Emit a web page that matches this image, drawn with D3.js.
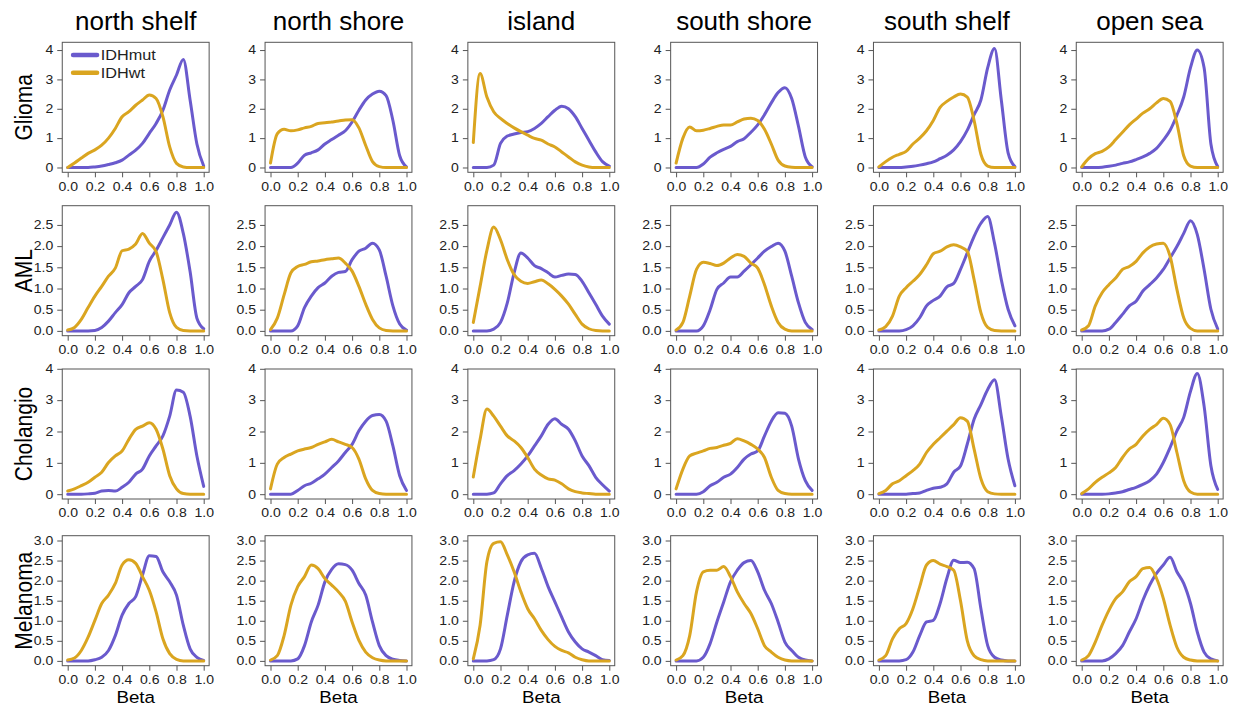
<!DOCTYPE html>
<html lang="en">

<head>
  <meta charset="UTF-8" />
  <script src="https://d3js.org/d3.v7.min.js"></script>
  <style>
    body {
      margin: 0;
      background: #fff;
    }

    text {
      font-family: Arial, "Liberation Sans", Helvetica, sans-serif;
      fill: #1a1a1a;
    }

    .tick line {
      stroke: #555;
    }
  </style>
</head>

<body>
  <svg id="chart" width="1240" height="706"></svg>

  <script>
    const regions = ["north shelf", "north shore", "island", "south shore", "south shelf", "open sea"];
    const cancers = ["Glioma", "AML", "Cholangio", "Melanoma"];
    const groups = ["IDHmut", "IDHwt"];
    const betaGrid = [0, 0.05, 0.1, 0.15, 0.2, 0.25, 0.3, 0.35, 0.4, 0.45, 0.5, 0.55, 0.6, 0.65, 0.7, 0.75, 0.8, 0.85, 0.9, 0.95, 1.0];
    const betaTicks = [0, 0.2, 0.4, 0.6, 0.8, 1.0];
    const densityTicks = [[0, 1, 2, 3, 4], [0, 0.5, 1, 1.5, 2, 2.5], [0, 1, 2, 3, 4], [0, 0.5, 1, 1.5, 2, 2.5, 3]];
    const densityMax = [4.1, 2.84, 3.84, 3.0];

    // density values at each betaGrid point, one array per region
    const gliomaMut = [
      [0, 0, 0, 0, 0.02, 0.05, 0.1, 0.16, 0.25, 0.42, 0.59, 0.82, 1.16, 1.5, 1.95, 2.64, 3.15, 3.68, 2.3, 0.8, 0.05],
      [0, 0, 0, 0, 0.15, 0.42, 0.5, 0.6, 0.8, 0.95, 1.1, 1.25, 1.55, 1.95, 2.3, 2.5, 2.6, 2.45, 1.6, 0.4, 0.02],
      [0, 0, 0, 0.08, 0.82, 1.07, 1.14, 1.19, 1.22, 1.33, 1.5, 1.73, 1.95, 2.09, 2.0, 1.73, 1.33, 0.93, 0.53, 0.2, 0.05],
      [0, 0, 0, 0, 0.12, 0.35, 0.5, 0.62, 0.72, 0.88, 0.98, 1.2, 1.45, 1.8, 2.2, 2.55, 2.72, 2.35, 1.4, 0.36, 0.03],
      [0, 0, 0, 0, 0.02, 0.04, 0.08, 0.13, 0.19, 0.3, 0.42, 0.6, 0.88, 1.27, 1.8, 2.3, 3.4, 4.05, 2.3, 0.5, 0.03],
      [0, 0, 0, 0.01, 0.04, 0.08, 0.14, 0.19, 0.27, 0.36, 0.48, 0.65, 0.93, 1.27, 1.78, 2.4, 3.4, 4.0, 3.4, 0.8, 0.03]
    ];
    const gliomaWt = [
      [0, 0.15, 0.32, 0.48, 0.6, 0.76, 1.0, 1.33, 1.73, 1.9, 2.12, 2.3, 2.47, 2.35, 1.73, 0.7, 0.14, 0.02, 0, 0, 0],
      [0.15, 1.15, 1.3, 1.25, 1.28, 1.35, 1.4, 1.5, 1.52, 1.55, 1.58, 1.62, 1.63, 1.35, 0.75, 0.2, 0.03, 0, 0, 0, 0],
      [0.85, 3.2, 2.4, 1.9, 1.67, 1.5, 1.35, 1.22, 1.1, 0.99, 0.93, 0.8, 0.7, 0.53, 0.36, 0.19, 0.08, 0.02, 0, 0, 0],
      [0.15, 1.0, 1.38, 1.25, 1.27, 1.33, 1.4, 1.45, 1.45, 1.55, 1.65, 1.68, 1.6, 1.3, 0.8, 0.25, 0.05, 0.01, 0, 0, 0],
      [0.02, 0.2, 0.35, 0.45, 0.55, 0.8, 1.0, 1.25, 1.6, 2.05, 2.25, 2.4, 2.5, 2.4, 1.6, 0.45, 0.05, 0, 0, 0, 0],
      [0.02, 0.3, 0.47, 0.55, 0.7, 0.95, 1.2, 1.45, 1.65, 1.85, 2.0, 2.2, 2.35, 2.25, 1.5, 0.4, 0.05, 0, 0, 0, 0]
    ];
    const amlMut = [
      [0, 0, 0, 0, 0.01, 0.08, 0.23, 0.43, 0.62, 0.9, 1.05, 1.21, 1.64, 1.9, 2.2, 2.5, 2.8, 2.3, 1.4, 0.3, 0.05],
      [0, 0, 0, 0, 0.12, 0.55, 0.82, 1.02, 1.13, 1.29, 1.38, 1.4, 1.68, 1.88, 1.95, 2.07, 1.91, 1.29, 0.59, 0.16, 0.02],
      [0, 0, 0, 0.04, 0.2, 0.66, 1.37, 1.84, 1.72, 1.54, 1.47, 1.37, 1.27, 1.31, 1.34, 1.33, 1.17, 0.9, 0.63, 0.35, 0.16],
      [0, 0, 0, 0, 0.12, 0.5, 0.98, 1.13, 1.27, 1.27, 1.41, 1.56, 1.72, 1.88, 1.99, 2.07, 1.88, 1.29, 0.66, 0.2, 0.03],
      [0, 0, 0, 0, 0.03, 0.12, 0.31, 0.59, 0.72, 0.82, 1.04, 1.12, 1.45, 1.84, 2.23, 2.54, 2.7, 2.07, 1.21, 0.51, 0.12],
      [0, 0, 0, 0, 0.04, 0.2, 0.39, 0.59, 0.7, 0.94, 1.09, 1.25, 1.45, 1.72, 1.99, 2.3, 2.6, 2.27, 1.45, 0.51, 0.05]
    ];
    const amlWt = [
      [0.02, 0.08, 0.27, 0.55, 0.82, 1.05, 1.29, 1.48, 1.89, 1.93, 2.05, 2.3, 2.07, 1.87, 1.21, 0.43, 0.08, 0.01, 0, 0, 0],
      [0.03, 0.3, 0.85, 1.37, 1.52, 1.57, 1.63, 1.65, 1.68, 1.7, 1.72, 1.6, 1.41, 1.05, 0.63, 0.27, 0.07, 0.01, 0, 0, 0],
      [0.2, 1.05, 1.9, 2.45, 2.15, 1.68, 1.33, 1.17, 1.12, 1.16, 1.2, 1.11, 0.98, 0.82, 0.63, 0.39, 0.16, 0.05, 0.01, 0, 0],
      [0.02, 0.2, 0.82, 1.45, 1.62, 1.59, 1.54, 1.6, 1.72, 1.8, 1.76, 1.6, 1.48, 1.09, 0.59, 0.2, 0.04, 0, 0, 0, 0],
      [0.02, 0.1, 0.35, 0.82, 1.02, 1.17, 1.33, 1.56, 1.82, 1.88, 1.98, 2.03, 1.98, 1.88, 1.21, 0.43, 0.08, 0.01, 0, 0, 0],
      [0.02, 0.12, 0.59, 0.9, 1.09, 1.25, 1.45, 1.52, 1.64, 1.84, 1.98, 2.05, 2.07, 1.76, 0.98, 0.31, 0.06, 0, 0, 0, 0]
    ];
    const cholangioMut = [
      [0, 0, 0, 0.01, 0.03, 0.1, 0.12, 0.1, 0.22, 0.38, 0.64, 0.8, 1.22, 1.54, 1.86, 2.49, 3.32, 3.25, 2.49, 1.22, 0.25],
      [0, 0, 0, 0, 0.12, 0.27, 0.35, 0.49, 0.64, 0.85, 1.06, 1.33, 1.59, 2.02, 2.33, 2.51, 2.54, 2.33, 1.54, 0.59, 0.12],
      [0, 0, 0, 0.04, 0.33, 0.59, 0.75, 0.96, 1.22, 1.54, 1.86, 2.23, 2.41, 2.23, 2.07, 1.7, 1.22, 0.91, 0.54, 0.3, 0.1],
      [0, 0, 0, 0, 0.08, 0.27, 0.38, 0.54, 0.64, 0.85, 1.12, 1.28, 1.38, 1.86, 2.33, 2.6, 2.58, 2.17, 1.12, 0.43, 0.12],
      [0, 0, 0, 0, 0, 0.02, 0.04, 0.12, 0.19, 0.22, 0.33, 0.7, 0.9, 1.6, 2.39, 2.86, 3.34, 3.65, 2.49, 1.12, 0.27],
      [0, 0, 0, 0, 0.01, 0.04, 0.08, 0.15, 0.22, 0.31, 0.43, 0.64, 1.01, 1.49, 2.02, 2.45, 3.28, 3.85, 2.81, 0.91, 0.15]
    ];
    const cholangioWt = [
      [0.1, 0.17, 0.27, 0.38, 0.54, 0.7, 1.01, 1.22, 1.38, 1.75, 2.07, 2.17, 2.28, 2.07, 1.44, 0.59, 0.17, 0.02, 0, 0, 0],
      [0.17, 0.96, 1.17, 1.28, 1.38, 1.44, 1.49, 1.59, 1.67, 1.75, 1.67, 1.59, 1.49, 1.12, 0.49, 0.12, 0.02, 0, 0, 0, 0],
      [0.55, 1.75, 2.72, 2.49, 2.17, 1.86, 1.7, 1.49, 1.17, 0.8, 0.61, 0.49, 0.45, 0.33, 0.17, 0.08, 0.04, 0.02, 0, 0, 0],
      [0.17, 0.8, 1.22, 1.31, 1.38, 1.46, 1.49, 1.56, 1.62, 1.77, 1.7, 1.59, 1.44, 1.17, 0.54, 0.12, 0.02, 0, 0, 0, 0],
      [0.02, 0.12, 0.33, 0.43, 0.59, 0.75, 0.96, 1.33, 1.59, 1.8, 2.01, 2.22, 2.44, 2.33, 1.44, 0.49, 0.08, 0.01, 0, 0, 0],
      [0.02, 0.17, 0.38, 0.54, 0.68, 0.85, 1.17, 1.44, 1.59, 1.86, 2.07, 2.22, 2.42, 2.22, 1.33, 0.43, 0.07, 0, 0, 0, 0]
    ];
    const melanomaMut = [
      [0, 0, 0, 0, 0.03, 0.09, 0.26, 0.63, 1.14, 1.43, 1.6, 2.14, 2.62, 2.6, 2.22, 1.97, 1.64, 0.89, 0.3, 0.09, 0.01],
      [0, 0, 0, 0, 0.05, 0.38, 0.97, 1.39, 1.97, 2.28, 2.42, 2.4, 2.26, 1.93, 1.64, 0.97, 0.38, 0.13, 0.04, 0.01, 0],
      [0, 0, 0, 0.03, 0.3, 1.14, 1.97, 2.47, 2.64, 2.68, 2.31, 1.85, 1.47, 1.09, 0.72, 0.47, 0.3, 0.22, 0.13, 0.03, 0.01],
      [0, 0, 0, 0, 0.09, 0.43, 0.97, 1.47, 1.97, 2.26, 2.45, 2.5, 2.22, 1.76, 1.43, 0.97, 0.47, 0.26, 0.09, 0.02, 0],
      [0, 0, 0, 0, 0.03, 0.22, 0.63, 0.97, 1.01, 1.43, 2.06, 2.51, 2.45, 2.46, 2.3, 1.3, 0.38, 0.09, 0.02, 0, 0],
      [0, 0, 0, 0, 0.05, 0.18, 0.38, 0.72, 1.05, 1.51, 1.89, 2.18, 2.39, 2.58, 2.22, 1.93, 1.43, 0.72, 0.22, 0.05, 0]
    ];
    const melanomaWt = [
      [0.02, 0.07, 0.26, 0.59, 1.01, 1.43, 1.64, 1.93, 2.39, 2.52, 2.43, 2.1, 1.76, 1.22, 0.55, 0.18, 0.04, 0, 0, 0, 0],
      [0.02, 0.13, 0.63, 1.39, 1.85, 2.1, 2.39, 2.3, 2.05, 1.89, 1.72, 1.49, 0.97, 0.51, 0.22, 0.08, 0.02, 0, 0, 0, 0],
      [0.05, 0.89, 2.47, 2.93, 2.97, 2.64, 2.22, 1.72, 1.3, 1.05, 0.76, 0.53, 0.36, 0.26, 0.2, 0.09, 0.03, 0, 0, 0, 0],
      [0.02, 0.13, 0.63, 1.72, 2.22, 2.26, 2.26, 2.35, 2.1, 1.72, 1.43, 1.18, 0.8, 0.38, 0.22, 0.09, 0.02, 0, 0, 0, 0],
      [0.02, 0.13, 0.55, 0.8, 0.93, 1.3, 1.85, 2.39, 2.5, 2.41, 2.35, 2.26, 1.5, 0.5, 0.13, 0.03, 0, 0, 0, 0, 0],
      [0.02, 0.13, 0.47, 0.89, 1.26, 1.55, 1.72, 1.97, 2.1, 2.3, 2.33, 2.06, 1.56, 0.89, 0.34, 0.09, 0.02, 0, 0, 0, 0]
    ];

    const mutRows = [gliomaMut, amlMut, cholangioMut, melanomaMut];
    const wtRows = [gliomaWt, amlWt, cholangioWt, melanomaWt];
    const colors = { IDHmut: "#6a5acd", IDHwt: "#daa520" };

    const svg = d3.select("#chart");
    svg.append("rect").attr("width", 1240).attr("height", 706).attr("fill", "white");

    const firstX0 = 67.7, colStep = 202.8, unitW = 136;
    const rowTops = [42.3, 205.7, 369, 535.7];
    const boxH = 130;
    const boxW = unitW * 1.08;

    regions.forEach((region, c) => {
      const boxLeft = firstX0 + c * colStep - unitW * 0.04;
      svg.append("text")
        .attr("x", boxLeft + boxW / 2)
        .attr("y", 30)
        .attr("text-anchor", "middle")
        .attr("font-size", "26px")
        .style("fill", "#000")
        .text(region);
    });

    cancers.forEach((cancer, r) => {
      const top = rowTops[r];
      const ymax = densityMax[r];
      const yFmt = densityTicks[r].some(v => v % 1 !== 0) ? d3.format(".1f") : d3.format("d");

      svg.append("text")
        .attr("transform", `translate(31.5,${top + boxH / 2}) scale(1.12,1) rotate(-90)`)
        .attr("text-anchor", "middle")
        .attr("font-size", "21px")
        .style("fill", "#000")
        .text(cancer);

      regions.forEach((region, c) => {
        const boxLeft = firstX0 + c * colStep - unitW * 0.04;
        const x = d3.scaleLinear().domain([-0.04, 1.04]).range([boxLeft, boxLeft + boxW]);
        const y = d3.scaleLinear().domain([-0.04 * ymax, 1.04 * ymax]).range([top + boxH, top]);
        const panel = svg.append("g").attr("class", "panel");

        const xAxis = panel.append("g")
          .attr("transform", `translate(0,${top + boxH})`)
          .call(d3.axisBottom(x).tickValues(betaTicks).tickFormat(d3.format(".1f")).tickSize(5).tickSizeOuter(0));
        xAxis.select(".domain").remove();
        xAxis.selectAll("text")
          .attr("y", 18.3).attr("dy", null)
          .attr("transform", "scale(1.17,1)")
          .attr("font-size", "12px")
          .attr("font-family", null)
          .style("fill", "#222");

        const yAxis = panel.append("g")
          .attr("transform", `translate(${boxLeft},0)`)
          .call(d3.axisLeft(y).tickValues(densityTicks[r]).tickFormat(yFmt).tickSize(5).tickSizeOuter(0));
        yAxis.select(".domain").remove();
        yAxis.selectAll("text")
          .attr("x", -7.7)
          .attr("transform", "scale(1.17,1)")
          .attr("font-size", "12px")
          .attr("font-family", null)
          .style("fill", "#222");

        panel.append("rect")
          .attr("x", boxLeft).attr("y", top)
          .attr("width", boxW).attr("height", boxH)
          .attr("fill", "none")
          .attr("stroke", "#555")
          .attr("stroke-width", 1);

        const line = vals => d3.line()
          .x((d, i) => x(betaGrid[i]))
          .y(d => y(d))
          .curve(d3.curveMonotoneX)(vals);

        [[mutRows[r][c], "IDHmut"], [wtRows[r][c], "IDHwt"]].forEach(([vals, g]) => {
          panel.append("path")
            .attr("d", line(vals))
            .attr("fill", "none")
            .attr("stroke", colors[g])
            .attr("stroke-width", 3)
            .attr("stroke-linejoin", "round")
            .attr("stroke-linecap", "round");
        });

        if (r === cancers.length - 1) {
          panel.append("text")
            .attr("transform", `translate(${boxLeft + boxW / 2},703) scale(1.15,1)`)
            .attr("text-anchor", "middle")
            .attr("font-size", "16.3px")
            .style("fill", "#000")
            .text("Beta");
        }

        if (r === 0 && c === 0) {
          groups.forEach((g, i) => {
            const ly = top + 12.7 + i * 17.7;
            panel.append("line")
              .attr("x1", boxLeft + 10.8).attr("x2", boxLeft + 34.8)
              .attr("y1", ly).attr("y2", ly)
              .attr("stroke", colors[g])
              .attr("stroke-width", 4.5)
              .attr("stroke-linecap", "round");
            panel.append("text")
              .attr("transform", `translate(${boxLeft + 38.5},${ly + 5}) scale(1.16,1)`)
              .attr("font-size", "14px")
              .style("fill", "#222")
              .text(g);
          });
        }
      });
    });
  </script>
</body>

</html>
